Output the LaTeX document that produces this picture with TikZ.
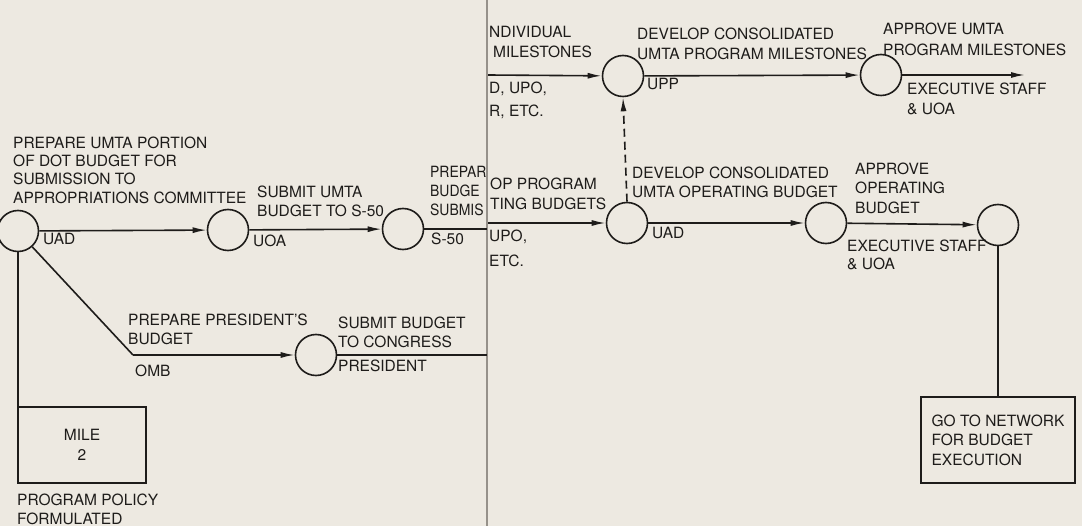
\documentclass[tikz,border=0pt]{standalone}
\usepackage{fontspec}
\setmainfont{TeX Gyre Heros}
\usetikzlibrary{arrows.meta}
\definecolor{bg}{RGB}{237,233,225}
\definecolor{ink}{RGB}{30,28,26}
\definecolor{sepc}{RGB}{150,145,138}
\newcommand\lblfont{\fontsize{15.5}{19}\selectfont}
\tikzset{
  ev/.style={circle,draw=ink,line width=1.6pt,minimum size=41pt,inner sep=0pt},
  lbl/.style={anchor=north west,inner sep=0pt,align=left,text=ink,font=\lblfont},
  link/.style={draw=ink,line width=1.6pt},
  arr/.style={link,-{Latex[length=14pt,width=6pt]}},
  dlink/.style={arr,dash pattern=on 8pt off 5pt},
  boxn/.style={draw=ink,line width=1.6pt,inner sep=0pt,align=center,text=ink,font=\fontsize{15.5}{19.5}\selectfont},
}
\begin{document}
\begin{tikzpicture}[x=1pt,y=-1pt]
\fill[bg] (0,0) rectangle (1082,526);
\useasboundingbox (0,0) rectangle (1082,526);
% page separator
\coordinate (sepT) at (487,0);
\coordinate (sepB) at (487,526);
\draw[sepc,line width=1.2pt] (sepT) -- (sepB);

% events
\node[ev] (c1) at (18,231) {};
\node[ev] (c2) at (228,230) {};
\node[ev] (c3) at (403,229) {};
\node[ev] (cP) at (316,355) {};
\node[ev] (c4) at (627,223) {};
\node[ev] (c5) at (826,223) {};
\node[ev] (c6) at (998,225) {};
\node[ev] (cU) at (623,76) {};
\node[ev] (c7) at (881,75) {};

% boxes
\node[boxn,minimum width=128pt,minimum height=76pt] (mile) at (82,445) {MILE\\2};
\node[boxn,minimum width=154pt,minimum height=86pt,align=left] (net) at (998,440) {GO TO NETWORK\\FOR BUDGET\\EXECUTION};

% free ends
\coordinate (eL) at (487,229);
\coordinate (eR) at (488,223);
\coordinate (eP) at (487,355);
\coordinate (eU) at (488,75);
\coordinate (b1) at (133,355);
\coordinate (end7) at (1025,75);

% connectors
\draw[arr] (c1) -- (c2);
\draw[arr] (c2) -- (c3);
\draw[link] (c3) -- (eL);
\draw[arr] (eR) -- (c4);
\draw[link] (c1.-48) -- (b1);
\draw[arr] (b1) -- (cP);
\draw[link] (cP) -- (eP);
\draw[link] (c1.south) -- (c1.south |- mile.north);
\draw[arr] (eU) -- (cU);
\draw[arr] (cU) -- (c7);
\draw[arr] (c7) -- (end7);
\draw[arr] (c4) -- (c5);
\draw[arr] (c5) -- (c6);
\draw[link] (c6.south) -- (c6.south |- net.north);
\draw[dlink] (c4.north) -- (cU.south);

% left page labels
\node[lbl,font=\fontsize{15.5}{18.3}\selectfont] (t1) at (13,136.4) {PREPARE UMTA PORTION\\OF DOT BUDGET FOR\\SUBMISSION TO\\APPROPRIATIONS COMMITTEE};
\node[lbl] (t2) at (43,233.4) {UAD};
\node[lbl] (t3) at (257,185.4) {SUBMIT UMTA\\BUDGET TO S-50};
\node[lbl] (t4) at (253,234.4) {UOA};
\begin{scope}[shift={(430,166.4)},xscale=0.9]
\node[lbl,transform shape] (t5) at (0,0) {PREPAR\\BUDGE\\SUBMIS};
\end{scope}
\node[lbl] (t6) at (431,232.4) {S-50};
\node[lbl] (t7) at (128,313.4) {PREPARE PRESIDENT'S\\BUDGET};
\node[lbl] (t8) at (135,364.4) {OMB};
\node[lbl] (t9) at (338,316.4) {SUBMIT BUDGET\\TO CONGRESS};
\node[lbl] (t10) at (338,359.4) {PRESIDENT};
\node[lbl] (t12) at (17,493.4) {PROGRAM POLICY\\FORMULATED};

% right page labels
\node[lbl] (t13a) at (489,26.4) {NDIVIDUAL};
\node[lbl] (t13b) at (493,45.4) {MILESTONES};
\node[lbl,font=\fontsize{15.5}{23}\selectfont] (t14) at (489,81.4) {D, UPO,\\R, ETC.};
\node[lbl,font=\fontsize{15.5}{20}\selectfont] (t15) at (637,27.4) {DEVELOP CONSOLIDATED\\UMTA PROGRAM MILESTONES};
\node[lbl] (t16) at (647,78.4) {UPP};
\node[lbl,font=\fontsize{15.5}{21.5}\selectfont] (t17) at (883,22.4) {APPROVE UMTA\\PROGRAM MILESTONES};
\node[lbl,font=\fontsize{15.5}{20}\selectfont] (t18) at (907,82.4) {EXECUTIVE STAFF\\\& UOA};
\node[lbl,font=\fontsize{15.5}{20}\selectfont] (t19) at (490,177.4) {OP PROGRAM\\TING BUDGETS};
\node[lbl,font=\fontsize{15.5}{25}\selectfont] (t20) at (489,229.4) {UPO,\\ETC.};
\node[lbl] (t21) at (632,166.4) {DEVELOP CONSOLIDATED\\UMTA OPERATING BUDGET};
\node[lbl] (t22) at (652,227.4) {UAD};
\node[lbl,font=\fontsize{15.5}{19.5}\selectfont] (t23) at (855,162.4) {APPROVE\\OPERATING\\BUDGET};
\node[lbl,font=\fontsize{15.5}{18.5}\selectfont] (t24) at (847,239.4) {EXECUTIVE STAFF\\\& UOA};
\end{tikzpicture}
\end{document}
